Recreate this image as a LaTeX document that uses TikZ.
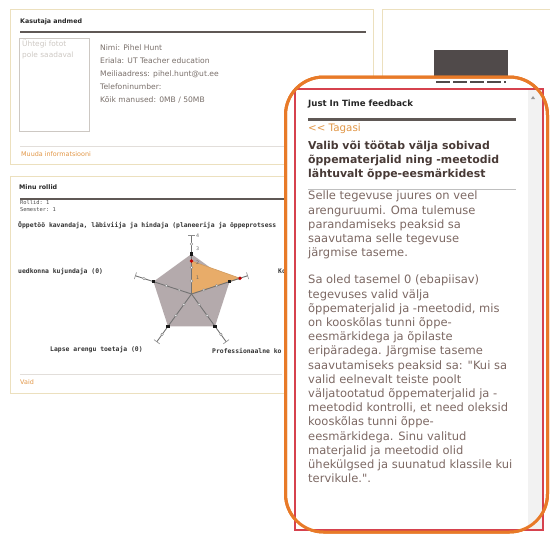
\documentclass[tikz,border=0pt]{standalone}
\usepackage{fontspec}
\setmainfont{DejaVu Sans}
\setmonofont{DejaVu Sans Mono}
\newfontfamily\quotefont{DejaVu Sans}

\definecolor{panelBeige}{RGB}{236,224,190}
\definecolor{ruleDark}{RGB}{95,88,85}
\definecolor{ruleLight}{RGB}{226,222,218}
\definecolor{infoText}{RGB}{120,110,105}
\definecolor{linkOrange}{RGB}{225,150,70}
\definecolor{frameOrange}{RGB}{232,122,40}
\definecolor{frameRed}{RGB}{214,66,78}
\definecolor{bodyText}{RGB}{125,105,100}
\definecolor{headText}{RGB}{72,58,54}
\definecolor{chartGray}{RGB}{180,170,172}
\definecolor{chartOrange}{RGB}{232,172,105}
\definecolor{photoGray}{RGB}{205,200,195}
\definecolor{darkBlock}{RGB}{80,74,74}

\begin{document}
\begin{tikzpicture}[
    x=1pt, y=-1pt,
    panel/.style={draw=panelBeige, line width=0.9pt},
    titlerule/.style={draw=ruleDark, line width=2pt},
    thinrule/.style={draw=ruleLight, line width=0.8pt},
    paneltitle/.style={anchor=west, inner sep=0, font=\bfseries\fontsize{6.3}{7}\selectfont, text=black!85},
    linktext/.style={anchor=west, inner sep=0, font=\fontsize{6.4}{7}\selectfont, text=linkOrange},
    chartlabel/.style={anchor=west, inner sep=0, font=\ttfamily\bfseries\fontsize{6.4}{7}\selectfont, text=black!80},
    ticklabel/.style={anchor=west, inner sep=0, font=\fontsize{4.8}{5}\selectfont, text=black!60},
    axisline/.style={draw=black!55, line width=0.9pt},
    tickmark/.style={fill=white, draw=black!50, line width=0.4pt},
    bodypara/.style={anchor=north west, inner sep=0, align=left, text=bodyText, font=\fontsize{11.5}{14.2}\selectfont}
  ]
    \useasboundingbox (0,0) rectangle (550,536);

    % Panel: Kasutaja andmed
    \draw[panel] (10,9.5) rectangle (373,164);
    \node[paneltitle] (userTitle) at (20,22) {Kasutaja andmed};
    \draw[titlerule] (20,32) -- (366,32);
    \draw[draw=photoGray, line width=0.6pt] (19.5,38) rectangle (89,131);
    \node[anchor=north west, inner sep=0, align=left, text=photoGray, font=\fontsize{7.4}{11}\selectfont] (photoText) at (22,39.5) {Ühtegi fotot\\pole saadaval};
    \node[anchor=north west, inner sep=0, align=left, text=infoText, font=\fontsize{7.6}{13.1}\selectfont] (userInfo) at (100,44.5) {
      Nimi: Pihel Hunt\\
      Eriala: UT Teacher education\\
      Meiliaadress: pihel.hunt@ut.ee\\
      Telefoninumber:\\
      Kõik manused: 0MB / 50MB
    };
    \draw[thinrule] (20,146) -- (290,146);
    \node[linktext] (editLink) at (21,154) {Muuda informatsiooni};

    % Panel: Minu rollid
    \draw[panel] (10,176.5) rectangle (378,393);
    \node[paneltitle] (roleTitle) at (19,187) {Minu rollid};
    \draw[titlerule] (20,199) -- (290,199);
    \node[anchor=north west, inner sep=0, align=left, text=black!70, font=\ttfamily\fontsize{5.4}{7.4}\selectfont] (roleInfo) at (20,200) {Rollid: 1\\Semester: 1};
    \node[chartlabel] (axisTop) at (18,225.5) {Õppetöö kavandaja, läbiviija ja hindaja (planeerija ja õppeprotsess};
    \node[chartlabel] (axisLeft) at (18,272) {uedkonna kujundaja (0)};
    \node[chartlabel] (axisRight) at (278,271.5) {Ko};
    \node[chartlabel] (axisLowLeft) at (50,350) {Lapse arengu toetaja (0)};
    \node[chartlabel] (axisLowRight) at (212,350.5) {Professionaalne ko};

    % radar chart
    \begin{scope}[shift={(191.5,294)}, yscale=-1]
      \fill[chartGray] (90:40) -- (18:40) -- (-54:40) -- (-126:40) -- (162:40) -- cycle;
      \filldraw[fill=chartOrange, draw=chartOrange!90!black, line width=0.6pt] (0,0) -- (90:33) -- (18:51) -- cycle;
      \foreach \a in {90,18,-54,-126,162} {
        \draw[axisline] (0,0) -- (\a:59);
        \draw[draw=black!45, line width=0.6pt] (\a:59) ++(\a+90:3.5) -- ++(\a-90:7);
        \foreach \r in {13,26.5,50}
          \filldraw[tickmark] (\a:\r) circle (1.3);
        \fill[black!90] (\a:40) ++(-1.7,-1.7) rectangle ++(3.4,3.4);
      }
      \fill[red!75!black] (90:33) circle (1.8);
      \fill[red!75!black] (18:51) circle (1.8);
    \end{scope}
    \node[ticklabel] (tick4) at (196,236) {4};
    \node[ticklabel] (tick3) at (196,249) {3};
    \node[ticklabel] (tick2) at (196,263) {2};
    \node[ticklabel] (tick1) at (196,278) {1};

    \draw[thinrule] (20,374) -- (282,374);
    \node[linktext] (viewLink) at (20,382.5) {Vaid};

    % Panel: right top
    \draw[panel] (382,9.5) -- (382,100);
    \draw[panel] (382,9.5) -- (552,9.5);
    \fill[darkBlock] (434,50) rectangle (508,84);

    % Just in Time feedback overlay
    \filldraw[fill=white, draw=frameOrange, line width=3pt, rounded corners=38pt] (285.5,77) rectangle (547.5,532);
    \draw[darkBlock, line width=2.5pt, dash pattern=on 14pt off 3pt] (436,82) -- (506,82);
    \filldraw[fill=white, draw=frameRed, line width=1.5pt] (295,89) rectangle (543,530);
    \fill[black!5] (527.5,90) rectangle (542,529);
    \fill[black!40] (531,99) -- (535,99) -- (533,96) -- cycle;
    \draw[draw=frameOrange, line width=3pt, rounded corners=38pt] (285.5,77) rectangle (547.5,532);

    \node[anchor=west, inner sep=0, font=\bfseries\fontsize{8.6}{10}\selectfont, text=black!85] (jitTitle) at (308,104.3) {Just In Time feedback};
    \draw[titlerule, line width=2.5pt] (308,119.3) -- (516,119.3);
    \node[anchor=west, inner sep=0, font=\fontsize{10.3}{12}\selectfont, text=linkOrange] (backLink) at (308,128.5) {{<}{<} Tagasi};
    \node[anchor=north west, inner sep=0, align=left, text=headText, font=\bfseries\fontsize{10.9}{14.1}\selectfont] (jitHead) at (308,140.8) {
      Valib või töötab välja sobivad\\
      õppematerjalid ning -meetodid\\
      lähtuvalt õppe-eesmärkidest
    };
    \draw[draw=black!25, line width=1pt] (308,189.3) -- (516,189.3);
    \node[bodypara] (jitIntro) at (308,191) {
      Selle tegevuse juures on veel\\
      arenguruumi. Oma tulemuse\\
      parandamiseks peaksid sa\\
      saavutama selle tegevuse\\
      järgmise taseme.
    };
    \node[bodypara] (jitLevel) at (308,275) {
      Sa oled tasemel 0 (ebapiisav)\\
      tegevuses valid välja\\
      õppematerjalid ja -meetodid, mis\\
      on kooskõlas tunni õppe-\\
      eesmärkidega ja õpilaste\\
      eripäradega. Järgmise taseme\\
      saavutamiseks peaksid sa: {\quotefont"}Kui sa\\
      valid eelnevalt teiste poolt\\
      väljatootatud õppematerjalid ja -\\
      meetodid kontrolli, et need oleksid\\
      kooskõlas tunni õppe-\\
      eesmärkidega. Sinu valitud\\
      materjalid ja meetodid olid\\
      ühekülgsed ja suunatud klassile kui\\
      tervikule.{\quotefont"}.
    };
  \end{tikzpicture}
\end{document}
